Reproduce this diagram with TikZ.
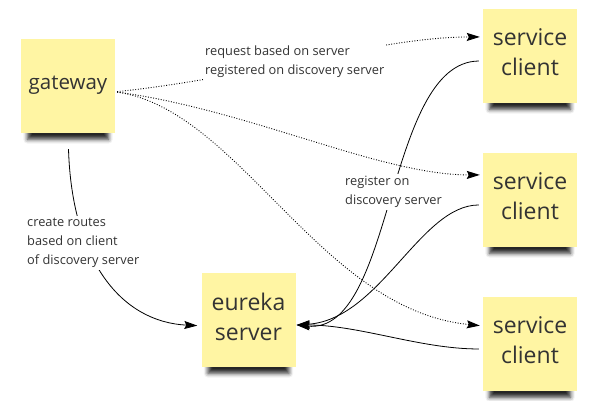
\documentclass[tikz,border=0pt]{standalone}
\usepackage{fontspec}
\setmainfont{Open Sans}
\usetikzlibrary{arrows.meta,shadows.blur}
\definecolor{stickyyellow}{RGB}{255,245,163}
\definecolor{inkgray}{RGB}{51,51,51}
\tikzset{
  sticky/.style = {fill=stickyyellow, minimum width=94pt, minimum height=94pt,
    align=center, inner sep=0pt, text depth=7pt, text=inkgray,
    font=\fontsize{23}{30}\selectfont,
    blur shadow={shadow xshift=0pt, shadow yshift=-15pt, shadow scale=0.86,
      shadow blur radius=5pt, shadow opacity=85}},
  edge_lbl/.style = {fill=white, align=left, inner sep=2pt, text=inkgray,
    font=\fontsize{12.8}{19}\selectfont},% texte sur fond blanc
  req_edge/.style = {line width=0.9pt, dash pattern=on 0.9pt off 1.7pt,
    -{Stealth[length=13pt,width=8pt,inset=2pt]}},% requete, pointille
  reg_edge/.style = {line width=0.8pt,
    -{Stealth[length=13pt,width=8pt,inset=2pt]}}% enregistrement, plein
}
\begin{document}
\begin{tikzpicture}[x=1pt,y=-1pt]
    \useasboundingbox (0,0) rectangle (604,400);
    % notes
    \node [sticky, font=\fontsize{20.5}{30}\selectfont] (gw) at (68,86) {gateway};
    \node [sticky] (sc1) at (530,56) {service\\client};
    \node [sticky] (sc2) at (530,200) {service\\client};
    \node [sticky] (sc3) at (530,344) {service\\client};
    \node [sticky] (eur) at (248.5,320) {eureka\\server};
    % gateway -> clients
    \draw [req_edge, shorten <=2pt, shorten >=3pt]
      (gw.-7) .. controls (250,78) and (380,37) .. (sc1.158);
    \draw [req_edge, shorten <=2pt, shorten >=3pt]
      (gw.-7) .. controls (250,110) and (380,175) .. (sc2.152);
    \draw [req_edge, shorten <=2pt, shorten >=3pt]
      (gw.-7) .. controls (240,110) and (320,310) .. (sc3.159);
    % gateway -> eureka
    \draw [reg_edge, shorten <=16pt, shorten >=4pt]
      (gw.south) .. controls (72,262) and (122,322) .. (eur.187);
    % clients -> eureka
    \draw [reg_edge, shorten <=4pt, shorten >=1pt]
      (sc1.186) .. controls (385,62) and (395,335) .. (eur.-6);
    \draw [reg_edge, shorten <=4pt, shorten >=1pt]
      (sc2.186) .. controls (420,205) and (380,320) .. (eur.-6);
    \draw [reg_edge, shorten <=4pt, shorten >=1pt]
      (sc3.186) .. controls (420,349) and (360,325) .. (eur.-6);
    % labels
    \node [edge_lbl, anchor=west] (req_lbl) at (203,62)
      {request based on server\\registered on discovery server};
    \node [edge_lbl, anchor=west] (reg_lbl) at (343,192)
      {register on\\discovery server};
    \node [edge_lbl, anchor=west] (route_lbl) at (25,243)
      {create routes\\based on client\\of discovery server};
\end{tikzpicture}
\end{document}
